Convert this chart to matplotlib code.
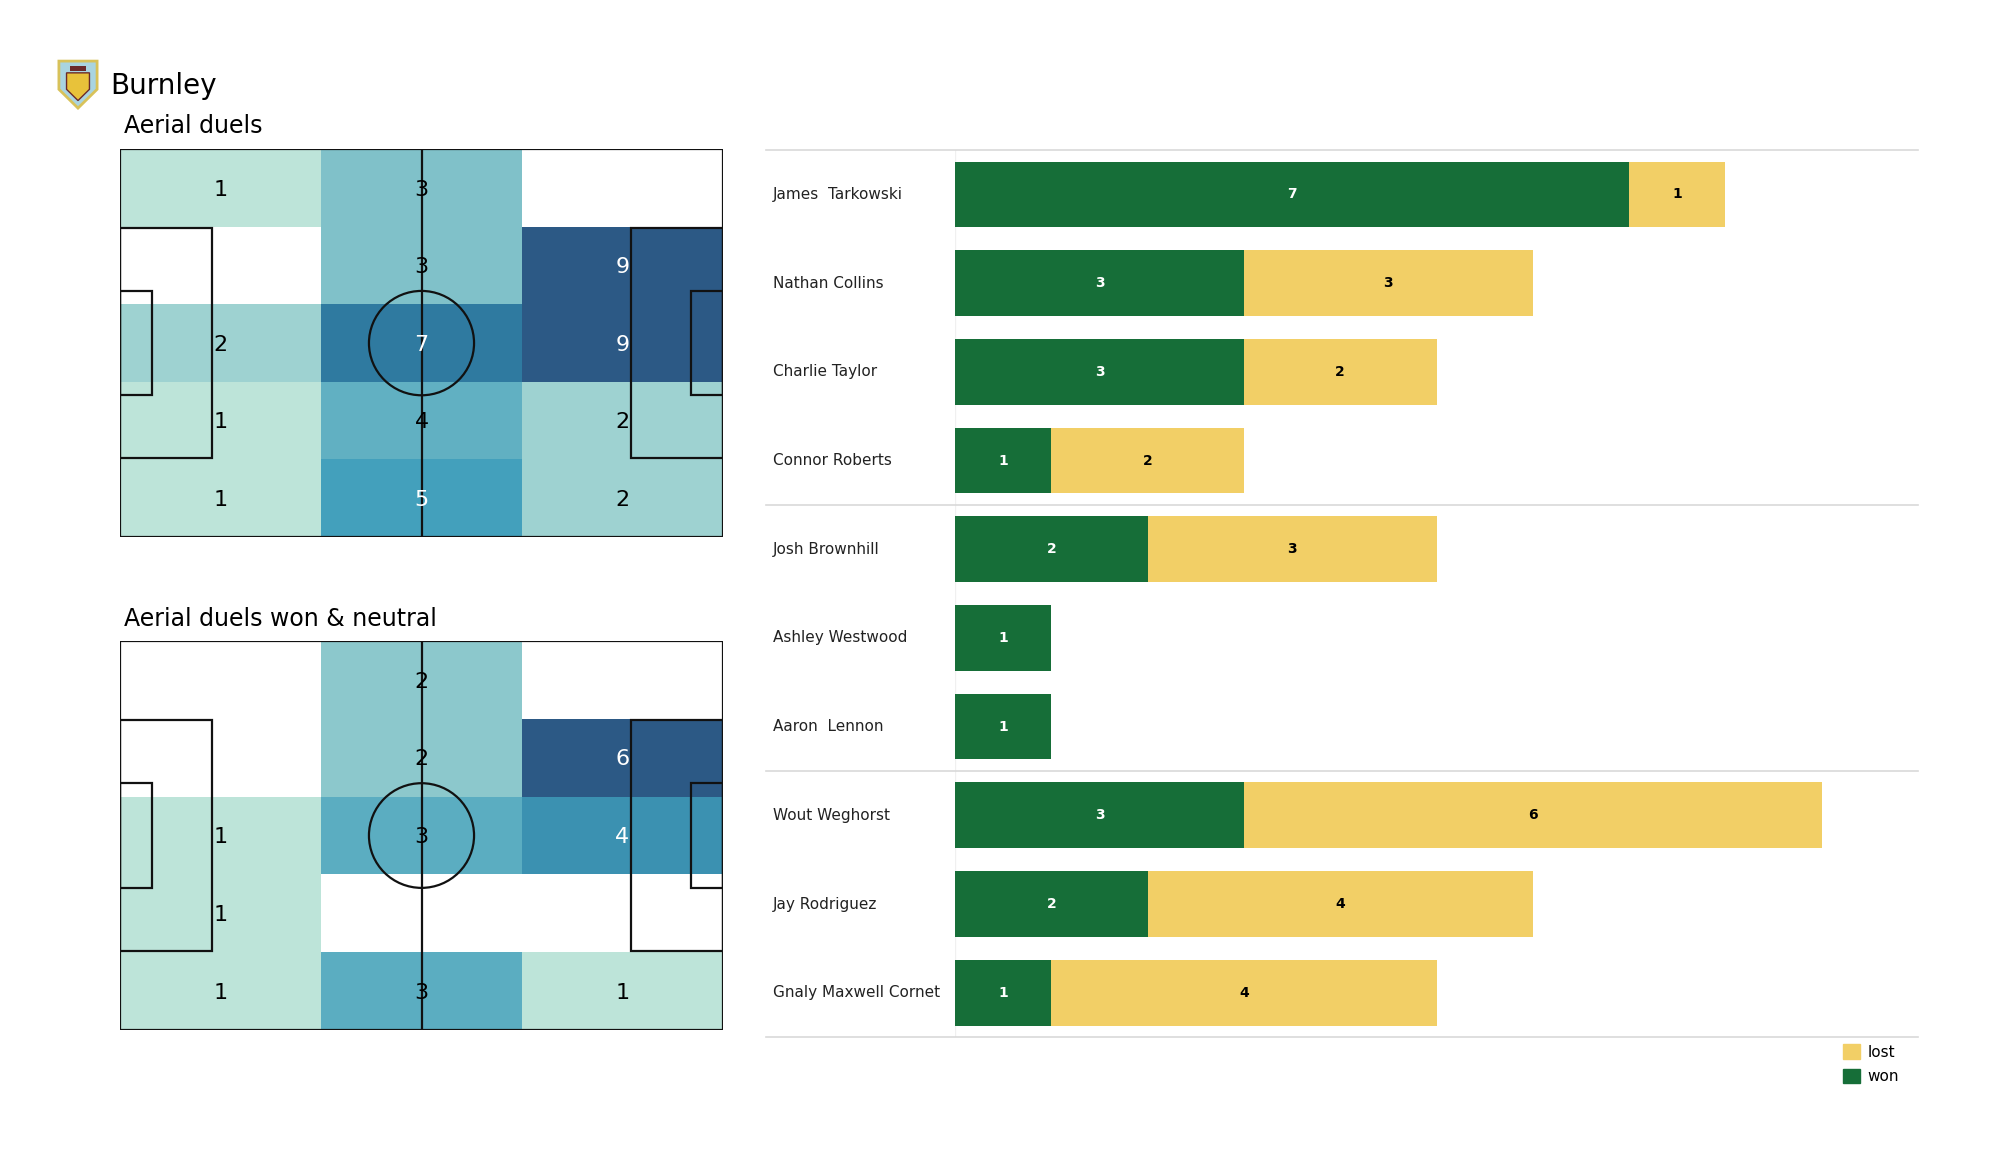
import numpy as np
import matplotlib
matplotlib.use("Agg")
import matplotlib.pyplot as plt
from matplotlib.colors import LinearSegmentedColormap
from matplotlib.patches import Rectangle, Circle, Polygon, Patch

# --- data -------------------------------------------------------------
team = "Burnley"

# heatmap counts, rows top -> bottom, cols left -> right
duels_all = [[1, 3, 0],
             [0, 3, 9],
             [2, 7, 9],
             [1, 4, 2],
             [1, 5, 2]]
duels_won = [[0, 2, 0],
             [0, 2, 6],
             [1, 3, 4],
             [1, 0, 0],
             [1, 3, 1]]

players = ["James  Tarkowski", "Nathan Collins", "Charlie Taylor", "Connor Roberts",
           "Josh Brownhill", "Ashley Westwood", "Aaron  Lennon",
           "Wout Weghorst", "Jay Rodriguez", "Gnaly Maxwell Cornet"]
won = [7, 3, 3, 1, 2, 1, 1, 3, 2, 1]
lost = [1, 3, 2, 2, 3, 0, 0, 6, 4, 4]
group_breaks = [3.5, 6.5]

GREEN = "#166e38"
YELLOW = "#f2cf66"
cmap = LinearSegmentedColormap.from_list(
    "duels", ["#bde4d9", "#80c1c9", "#43a0bc", "#2f7aa0", "#2c5985"])

plt.rcParams["font.family"] = ["DejaVu Sans"]
fig = plt.figure(figsize=(20, 11.75), dpi=100)


def draw_pitch(ax, grid):
    L, W = 105.0, 68.0
    g = np.array(grid, dtype=float)
    nr, nc = g.shape
    xe = np.linspace(0, L, nc + 1)
    ye = np.linspace(0, W, nr + 1)
    pos = g[g > 0]
    vmin, vmax = pos.min(), pos.max()
    ax.pcolormesh(xe, ye, np.ma.masked_equal(g, 0), cmap=cmap,
                  vmin=vmin, vmax=vmax, zorder=1)
    lc = dict(fill=False, ec="#111111", lw=1.6, zorder=3)
    ax.add_patch(Rectangle((0, 0), L, W, **lc))
    ax.plot([L / 2, L / 2], [0, W], color="#111111", lw=1.6, zorder=3)
    ax.add_patch(Circle((L / 2, W / 2), 9.15, **lc))
    for x0, s in [(0, 1), (L, -1)]:
        ax.add_patch(Rectangle((x0, W / 2 - 20.16), s * 16.0, 40.32, **lc))
        ax.add_patch(Rectangle((x0, W / 2 - 9.16), s * 5.5, 18.32, **lc))
    for i in range(nr):
        for j in range(nc):
            v = g[i, j]
            if v > 0:
                col = "white" if v / vmax > 0.5 else "black"
                ax.text((xe[j] + xe[j + 1]) / 2, (ye[i] + ye[i + 1]) / 2 + 0.3,
                        f"{int(v)}", ha="center", va="center",
                        fontsize=16, color=col, zorder=4)
    ax.set_xlim(0, L)
    ax.set_ylim(W, 0)
    ax.axis("off")


ax1 = fig.add_axes([0.060, 0.543, 0.3015, 0.330])
draw_pitch(ax1, duels_all)
ax2 = fig.add_axes([0.060, 0.1234, 0.3015, 0.331])
draw_pitch(ax2, duels_won)

fig.text(0.055, 0.927, team, fontsize=20, va="center")
fig.text(0.062, 0.8926, "Aerial duels", fontsize=17, va="center")
fig.text(0.062, 0.473, "Aerial duels won & neutral", fontsize=17, va="center")

# simple club crest
axl = fig.add_axes([0.0285, 0.906, 0.021, 0.044])
shield = [(0, 1), (1, 1), (1, 0.4), (0.5, 0), (0, 0.4)]
axl.add_patch(Polygon(shield, closed=True, fc="#a9d4e0", ec="#d8c25a", lw=2))
axl.add_patch(Polygon([(0.2, 0.75), (0.8, 0.75), (0.8, 0.4), (0.5, 0.16), (0.2, 0.4)],
                      closed=True, fc="#e8c23a", ec="#6b2a2a", lw=1))
axl.add_patch(Rectangle((0.3, 0.78), 0.4, 0.12, fc="#6b2a2a"))
axl.set_xlim(-0.05, 1.05)
axl.set_ylim(-0.05, 1.05)
axl.axis("off")

# --- stacked bars ------------------------------------------------------
axb = fig.add_axes([0.4775, 0.1174, 0.4815, 0.7549])
y = np.arange(len(players))
axb.barh(y, won, height=0.74, color=GREEN, label="won")
axb.barh(y, lost, left=won, height=0.74, color=YELLOW, label="lost")
for i in range(len(players)):
    if won[i]:
        axb.text(won[i] / 2, y[i], str(won[i]), ha="center", va="center",
                 color="white", fontsize=10, fontweight="bold")
    if lost[i]:
        axb.text(won[i] + lost[i] / 2, y[i], str(lost[i]), ha="center",
                 va="center", color="black", fontsize=10, fontweight="bold")
    axb.text(-0.189, y[i], players[i], transform=axb.get_yaxis_transform(),
             ha="left", va="center", fontsize=11, color="#222222")

for yl in [-0.5] + group_breaks + [len(players) - 0.5]:
    axb.axhline(yl, xmin=-0.196, xmax=1, color="#d9d9d9", lw=1.2, clip_on=False)
axb.axvline(0, color="#f0f0f0", lw=1, zorder=0)
axb.set_xlim(0, 10)
axb.set_ylim(len(players) - 0.5, -0.5)
axb.axis("off")

handles = [Patch(color=YELLOW, label="lost"), Patch(color=GREEN, label="won")]
fig.legend(handles=handles, loc="upper left", bbox_to_anchor=(0.9215, 0.1115),
           frameon=False, fontsize=11, handlelength=1.1, handleheight=1.1,
           handletextpad=0.5, labelspacing=0.6, borderpad=0, borderaxespad=0)

fig.savefig("out.png", dpi=100, facecolor="white")
